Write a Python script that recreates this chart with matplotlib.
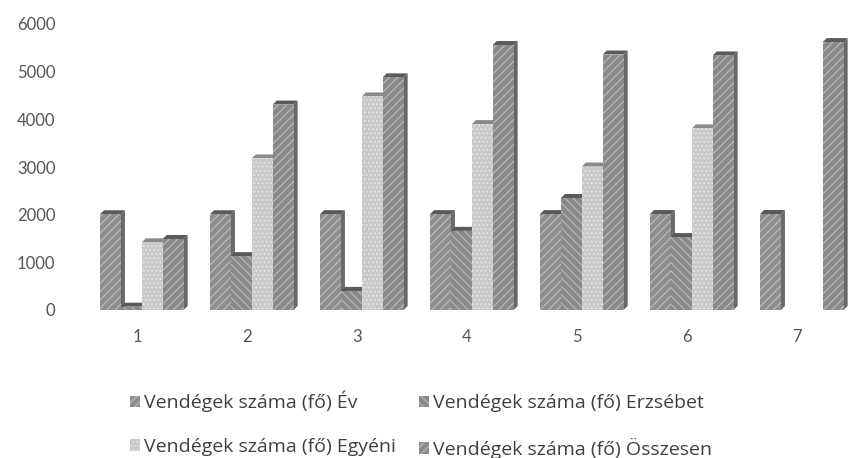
import numpy as np
import matplotlib as mpl
import matplotlib.pyplot as plt
from matplotlib.patches import Polygon, Patch

# Vendégek száma évenként
categories = ['1', '2', '3', '4', '5', '6', '7']
ev = [2008, 2009, 2010, 2011, 2012, 2013, 2014]
erzsebet = [70, 1130, 400, 1660, 2350, 1530, np.nan]
egyeni = [1420, 3180, 4480, 3900, 3010, 3810, np.nan]
osszesen = [1490, 4310, 4880, 5560, 5360, 5340, 5620]
series_labels = ['Vendégek száma (fő) Év', 'Vendégek száma (fő) Erzsébet',
                 'Vendégek száma (fő) Egyéni', 'Vendégek száma (fő) Összesen']
y_ticks = [0, 1000, 2000, 3000, 4000, 5000, 6000]

plt.rcParams['font.family'] = ['Lato', 'DejaVu Sans']
plt.rcParams['hatch.linewidth'] = 0.8

W, H = 848, 458
fig = plt.figure(figsize=(W / 100, H / 100), dpi=100)
ax = fig.add_axes([75 / W, (H - 310) / H, (W - 75) / W, (310 - 24) / H])
ax.set_xlim(-0.5636, 6.4636)
ax.set_ylim(0, 6000)

face = ['#8e8e8e', '#8a8a8a', '#c9c9c9', '#8a8a8a']
hatch_col = ['#bdbdbd', '#b8b8b8', '#e6e6e6', '#bbbbbb']
hatches = ['////', '\\\\\\\\', '....', '////']
side_col = ['#6a6a6a', '#666666', '#a3a3a3', '#666666']
top_col = ['#5a5a5a', '#5a5a5a', '#8a8a8a', '#5a5a5a']

width = 0.19
shift = 0.044
dx = 4 / 110                 # depth offset in x data units
dy = 4 * 6000 / 286          # depth offset in y data units

x = np.arange(len(categories))
series = [ev, erzsebet, egyeni, osszesen]
for k, vals in enumerate(series):
    vals = np.asarray(vals, dtype=float)
    offs = (k - 1.5) * width + shift
    with mpl.rc_context({'hatch.color': hatch_col[k]}):
        bars = ax.bar(x + offs, vals, width, color=face[k], hatch=hatches[k],
                      linewidth=0, zorder=3 + 3 * k)
    for b, v in zip(bars, vals):
        if np.isnan(v):
            continue
        x0, x1 = b.get_x(), b.get_x() + b.get_width()
        ax.add_patch(Polygon([(x1, 0), (x1 + dx, dy), (x1 + dx, v + dy), (x1, v)],
                             closed=True, facecolor=side_col[k], linewidth=0,
                             zorder=2 + 3 * k))
        ax.add_patch(Polygon([(x0, v), (x0 + dx, v + dy), (x1 + dx, v + dy), (x1, v)],
                             closed=True, facecolor=top_col[k], linewidth=0,
                             zorder=2 + 3 * k))

ax.set_xticks(x)
ax.set_xticklabels(categories)
ax.set_yticks(y_ticks)
ax.set_yticklabels([str(t) for t in y_ticks])
ax.tick_params(length=0, labelsize=12, colors='#555555')
ax.tick_params(axis='x', pad=14)
ax.tick_params(axis='y', pad=14)
for s in ax.spines.values():
    s.set_visible(False)

handles = []
for k in range(4):
    with mpl.rc_context({'hatch.color': hatch_col[k]}):
        handles.append(Patch(facecolor=face[k], hatch=hatches[k], linewidth=0))
order = [0, 2, 1, 3]
fig.legend([handles[i] for i in order], [series_labels[i] for i in order],
           ncol=2, loc='upper left', bbox_to_anchor=(130 / W, 1 - 391 / H),
           frameon=False, prop={'family': ['Open Sans', 'DejaVu Sans'], 'size': 14},
           labelcolor='#404040',
           handlelength=0.52, handleheight=0.52, handletextpad=0.2,
           columnspacing=1.2, labelspacing=1.3, borderaxespad=0, borderpad=0)

fig.savefig('out.png', dpi=100)
